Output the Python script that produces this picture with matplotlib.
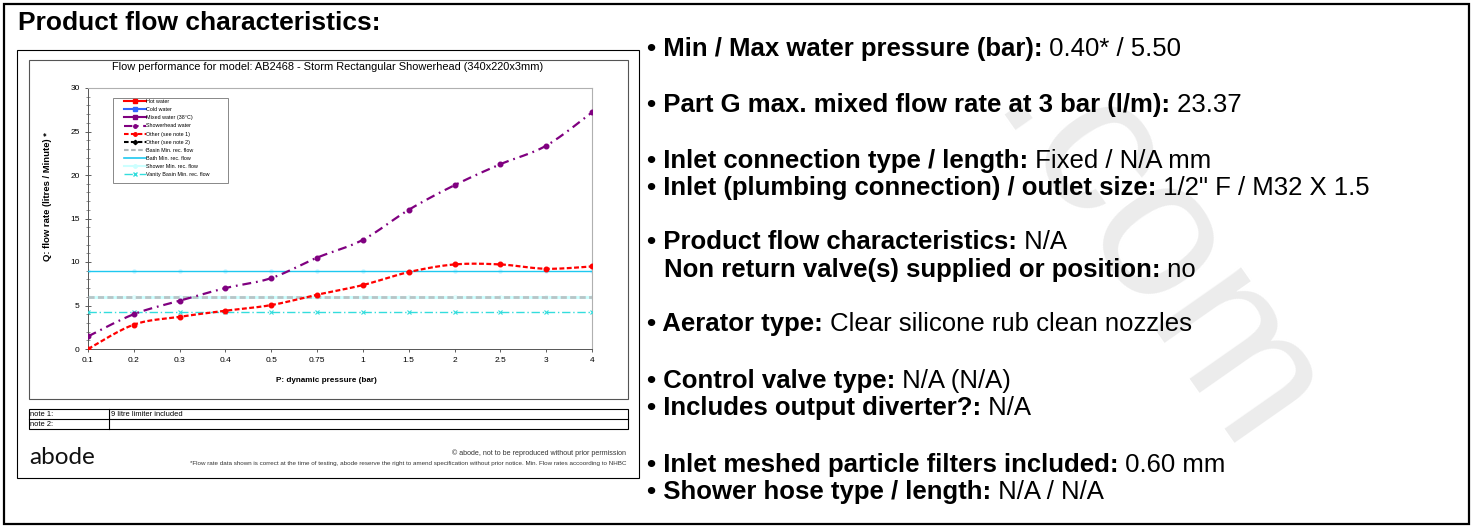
import numpy as np
import matplotlib
matplotlib.use("Agg")
import matplotlib.pyplot as plt
from matplotlib.patches import Rectangle
from matplotlib.lines import Line2D

W, H = 1472, 527

# ---------------- data ----------------
pressures = ["0.1", "0.2", "0.3", "0.4", "0.5", "0.75", "1", "1.5", "2", "2.5", "3", "4"]
showerhead_water = [1.45, 4.0, 5.55, 7.0, 8.15, 10.5, 12.55, 16.0, 18.83, 21.24, 23.37, 27.2]
other_note1 = [0.0, 2.8, 3.7, 4.4, 5.05, 6.24, 7.35, 8.84, 9.72, 9.72, 9.22, 9.49]
basin_min = 6.0
bath_min = 9.0
shower_min = 6.0
vanity_basin_min = 4.2

chart_title = "Flow performance for model: AB2468 - Storm Rectangular Showerhead (340x220x3mm)"
yticks = [0, 5, 10, 15, 20, 25, 30]
legend_labels = ["Hot water", "Cold water", "Mixed water (38°C)", "Showerhead water",
                 "Other (see note 1)", "Other (see note 2)", "Basin Min. rec. flow",
                 "Bath Min. rec. flow", "Shower Min. rec. flow", "Vanity Basin Min. rec. flow"]
notes = [("note 1:", "9 litre limiter included"), ("note 2:", "")]

info_lines = [
    (647, 49, "• Min / Max water pressure (bar):", " 0.40* / 5.50"),
    (647, 105, "• Part G max. mixed flow rate at 3 bar (l/m):", " 23.37"),
    (647, 161, "• Inlet connection type / length:", " Fixed / N/A mm"),
    (647, 188, "• Inlet (plumbing connection) / outlet size:", " 1/2\" F / M32 X 1.5"),
    (647, 242, "• Product flow characteristics:", " N/A"),
    (664, 270, "Non return valve(s) supplied or position:", " no"),
    (647, 324, "• Aerator type:", " Clear silicone rub clean nozzles"),
    (647, 381, "• Control valve type:", " N/A (N/A)"),
    (647, 408, "• Includes output diverter?:", " N/A"),
    (647, 465, "• Inlet meshed particle filters included:", " 0.60 mm"),
    (647, 492, "• Shower hose type / length:", " N/A / N/A"),
]

plt.rcParams['font.family'] = ['Liberation Sans', 'DejaVu Sans']

fig = plt.figure(figsize=(W / 100, H / 100), dpi=100)
bg = fig.add_axes([0, 0, 1, 1], zorder=0)
bg.set_xlim(0, W)
bg.set_ylim(H, 0)
bg.axis('off')


def rect(x0, y0, x1, y1, lw=1.0, ec='black', fc='none', z=1):
    bg.add_patch(Rectangle((x0, y0), x1 - x0, y1 - y0, lw=lw, ec=ec, fc=fc, zorder=z))


# watermark
bg.text(1152, 262, ".com", rotation=-55, fontsize=144, color='#ececec',
        ha='center', va='center', zorder=0)

# borders
rect(3.5, 4, 1468.5, 524, lw=1.6)
rect(16.5, 49.5, 638.5, 477.5, lw=0.8, fc='white', z=1)
rect(28.5, 59.5, 627.5, 398.5, lw=0.8, ec='#555555', z=2)

# title
bg.text(18, 23, "Product flow characteristics:", fontsize=19, fontweight='bold',
        va='center', ha='left', zorder=3)

# info text
for x, y, b, r in info_lines:
    t1 = bg.text(x, y, b, fontsize=18.5, fontweight='bold', va='center', ha='left', zorder=3)
    bg.annotate(r, xy=(1, 0), xycoords=t1, va='bottom', ha='left', fontsize=18.5, zorder=3)

# chart title and axis labels
bg.text(328, 67, chart_title, fontsize=7.9, ha='center', va='center', zorder=3)
bg.text(326, 380, "P: dynamic pressure (bar)", fontsize=5.9, fontweight='bold',
        ha='center', va='center', zorder=3)
bg.text(48, 197, "Q: flow rate (litres / Minute) *", fontsize=6.8, fontweight='bold',
        ha='center', va='center', rotation=90, zorder=3)

# notes table
rect(28.5, 409, 627.5, 429, lw=0.8, z=2)
bg.plot([28.5, 627.5], [419, 419], color='black', lw=0.8, zorder=2)
bg.plot([109, 109], [409, 429], color='black', lw=0.8, zorder=2)
for i, (a, b) in enumerate(notes):
    yy = 414 + 10 * i
    bg.text(30, yy, a, fontsize=5.4, va='center', ha='left', zorder=3)
    bg.text(111, yy, b, fontsize=5.4, va='center', ha='left', zorder=3)

# footer
bg.text(29, 458, "abode", fontsize=17.5, fontweight='normal', family=['Lato', 'DejaVu Sans'],
        color='#111111', va='center', ha='left', zorder=3)
bg.text(626, 453, "© abode, not to be reproduced without prior permission", fontsize=5.1,
        color='#333333', ha='right', va='center', zorder=3)
bg.text(626, 464, "*Flow rate data shown is correct at the time of testing, abode reserve the right "
        "to amend specification without prior notice. Min. Flow rates accoording to NHBC",
        fontsize=4.5, color='#333333', ha='right', va='center', zorder=3)

# ---------------- chart axes ----------------
ax = fig.add_axes([88 / W, 1 - 349 / H, (592 - 88) / W, (349 - 88) / H], zorder=5)
ax.patch.set_alpha(0)
x = np.arange(len(pressures))


def smooth(xs, ys, n=25):
    P = np.column_stack([xs, ys]).astype(float)
    P = np.vstack([P[0], P, P[-1]])
    segs = []
    t = np.linspace(0, 1, n)[:, None]
    for i in range(1, len(P) - 2):
        p0, p1, p2, p3 = P[i - 1], P[i], P[i + 1], P[i + 2]
        c1 = p1 + (p2 - p0) / 6
        c2 = p2 - (p3 - p1) / 6
        segs.append((1 - t) ** 3 * p1 + 3 * (1 - t) ** 2 * t * c1 + 3 * (1 - t) * t ** 2 * c2 + t ** 3 * p2)
    S = np.vstack(segs)
    return S[:, 0], S[:, 1]


# reference lines
ax.axhline(shower_min, color='#ccffff', lw=2.2, zorder=2)
ax.plot(x, [shower_min] * len(x), ls='none', marker='o', ms=2.5, color='#e0ffff', zorder=2)
ax.axhline(basin_min, color='#b8c4c6', lw=2.0, ls=(0, (2.2, 1.2)), zorder=3)
ax.axhline(bath_min, color='#1ec8f0', lw=1.0, zorder=3)
ax.plot(x, [bath_min] * len(x), ls='none', marker='o', ms=2.2, color='#c8f4ff', zorder=2)
ax.plot(x, [vanity_basin_min] * len(x), color='#33dddd', lw=1.0, ls=(0, (6, 2, 1, 2)),
        marker='x', ms=3, mew=0.8, zorder=3)

# data series
sx, sy = smooth(x, showerhead_water)
ax.plot(sx, sy, color='#800080', lw=1.6, ls=(0, (4, 2.2, 0.8, 2.2)), zorder=4)
ax.plot(x, showerhead_water, ls='none', marker='o', ms=3.3, color='#800080', zorder=5)
rx, ry = smooth(x, other_note1)
ax.plot(rx, ry, color='#ff0000', lw=1.6, ls=(0, (2.2, 1.1)), zorder=4)
ax.plot(x, other_note1, ls='none', marker='o', ms=3.3, color='#ff0000', zorder=5)

ax.set_xlim(0, len(x) - 1)
ax.set_ylim(0, 30)
ax.set_xticks(x)
ax.set_xticklabels(pressures, fontsize=6)
ax.set_yticks(yticks)
ax.set_yticklabels([str(v) for v in yticks], fontsize=6)
ax.set_yticks(np.arange(0, 31, 1), minor=True)
ax.tick_params(axis='y', which='major', direction='inout', length=4, width=0.6, pad=4, colors='#444444',
               labelcolor='black')
ax.tick_params(axis='y', which='minor', direction='inout', length=2.5, width=0.5, colors='#666666')
ax.tick_params(axis='x', which='major', direction='out', length=2.5, width=0.6, pad=3, colors='#444444',
               labelcolor='black')
for s in ['top', 'right']:
    ax.spines[s].set_color('#b0b0b0')
    ax.spines[s].set_linewidth(0.8)
ax.spines['left'].set_color('#555555')
ax.spines['bottom'].set_color('#555555')
ax.spines['left'].set_linewidth(0.7)
ax.spines['bottom'].set_linewidth(0.7)

# legend
handles = [
    Line2D([], [], color='#ff0000', lw=1.5, marker='s', ms=2.5),
    Line2D([], [], color='#3366ff', lw=1.5, marker='s', ms=2.5),
    Line2D([], [], color='#800080', lw=1.5, marker='s', ms=2.5),
    Line2D([], [], color='#800080', lw=1.5, ls=(0, (4, 2.2, 0.8, 2.2)), marker='o', ms=2.5),
    Line2D([], [], color='#ff0000', lw=1.5, ls=(0, (2.2, 1.1)), marker='o', ms=2.5),
    Line2D([], [], color='#000000', lw=1.5, ls=(0, (2.2, 1.1)), marker='D', ms=2.2),
    Line2D([], [], color='#b0b8ba', lw=1.5, ls=(0, (2.2, 1.2))),
    Line2D([], [], color='#1ec8f0', lw=1.2),
    Line2D([], [], color='#ccffff', lw=1.5, marker='o', ms=2.5),
    Line2D([], [], color='#33dddd', lw=1.0, ls=(0, (6, 2, 1, 2)), marker='x', ms=3),
]
rect(112.5, 97.5, 227.5, 182.5, lw=0.7, ec='#888888', fc='white', z=1)
leg = ax.legend(handles, legend_labels, loc='upper left',
                bbox_to_anchor=(124 / W, 1 - 99 / H), bbox_transform=fig.transFigure,
                frameon=False, fontsize=3.9, handlelength=4.0, handletextpad=0.15,
                labelspacing=0.58, borderpad=0.0, borderaxespad=0.0)

fig.savefig("out.png", dpi=100)
